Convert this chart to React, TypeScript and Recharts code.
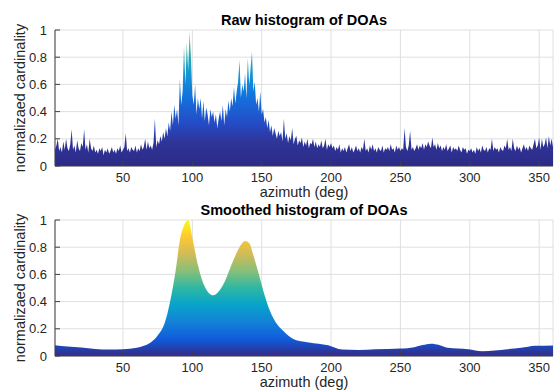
import { AreaChart, Area, XAxis, YAxis, CartesianGrid } from "recharts";

// raw histogram: one value per degree, 1..360
const RAW_START = 1;
const rawValues = [
  0.12, 0.15, 0.2, 0.11, 0.14, 0.1, 0.18, 0.12, 0.2, 0.13,
  0.11, 0.16, 0.27, 0.12, 0.15, 0.1, 0.19, 0.13, 0.11, 0.17,
  0.14, 0.27, 0.12, 0.16, 0.1, 0.2, 0.13, 0.11, 0.15, 0.1,
  0.12, 0.09, 0.13, 0.11, 0.14, 0.08, 0.12, 0.1, 0.13, 0.09,
  0.11, 0.14, 0.1, 0.12, 0.09, 0.13, 0.11, 0.15, 0.1, 0.12,
  0.14, 0.24, 0.11, 0.13, 0.1, 0.14, 0.12, 0.11, 0.15, 0.1,
  0.13, 0.11, 0.16, 0.12, 0.14, 0.2, 0.12, 0.18, 0.13, 0.15,
  0.12, 0.17, 0.35, 0.14, 0.19, 0.16, 0.22, 0.18, 0.25, 0.2,
  0.28, 0.22, 0.32, 0.26, 0.4, 0.3, 0.45, 0.35, 0.42, 0.3,
  0.64, 0.45, 0.55, 0.88, 0.6, 0.91, 0.7, 0.99, 0.8, 0.52,
  0.45, 0.6, 0.38, 0.5, 0.42, 0.5, 0.35, 0.48, 0.33, 0.43,
  0.38, 0.3, 0.42, 0.36, 0.4, 0.32, 0.38, 0.28, 0.35, 0.4,
  0.33, 0.45, 0.3, 0.42, 0.36, 0.48, 0.4, 0.5, 0.44, 0.58,
  0.46, 0.55, 0.62, 0.78, 0.5, 0.6, 0.55, 0.68, 0.5, 0.79,
  0.6, 0.72, 0.84, 0.55, 0.62, 0.45, 0.5, 0.4, 0.55, 0.38,
  0.42, 0.32, 0.36, 0.28, 0.34, 0.25, 0.3, 0.22, 0.28, 0.24,
  0.2, 0.26, 0.22, 0.25, 0.18, 0.35, 0.2, 0.24, 0.17, 0.22,
  0.19, 0.28, 0.16, 0.2, 0.22, 0.15, 0.19, 0.17, 0.21, 0.14,
  0.18, 0.15, 0.2, 0.13, 0.17, 0.16, 0.2, 0.14, 0.18, 0.13,
  0.16, 0.14, 0.19, 0.13, 0.15, 0.2, 0.12, 0.16, 0.14, 0.17,
  0.13, 0.15, 0.11, 0.14, 0.12, 0.16, 0.1, 0.13, 0.11, 0.14,
  0.1, 0.13, 0.16, 0.11, 0.14, 0.1, 0.12, 0.15, 0.11, 0.13,
  0.1, 0.14, 0.12, 0.2, 0.11, 0.13, 0.1, 0.15, 0.12, 0.16,
  0.11, 0.13, 0.1, 0.14, 0.12, 0.11, 0.15, 0.1, 0.13, 0.12,
  0.14, 0.11, 0.16, 0.12, 0.13, 0.1, 0.15, 0.12, 0.14, 0.11,
  0.13, 0.12, 0.28, 0.14, 0.11, 0.15, 0.26, 0.12, 0.14, 0.11,
  0.13, 0.16, 0.12, 0.15, 0.13, 0.17, 0.12, 0.16, 0.14, 0.18,
  0.15, 0.13, 0.21, 0.14, 0.16, 0.12, 0.17, 0.13, 0.15, 0.11,
  0.14, 0.12, 0.16, 0.11, 0.13, 0.15, 0.1, 0.14, 0.12, 0.13,
  0.11, 0.15, 0.12, 0.1, 0.14, 0.12, 0.13, 0.09, 0.12, 0.11,
  0.13, 0.1, 0.12, 0.09, 0.14, 0.11, 0.13, 0.1, 0.15, 0.12,
  0.11, 0.14, 0.1, 0.13, 0.12, 0.2, 0.11, 0.14, 0.12, 0.13,
  0.1, 0.14, 0.12, 0.11, 0.15, 0.13, 0.2, 0.12, 0.14, 0.11,
  0.2, 0.13, 0.11, 0.15, 0.12, 0.14, 0.1, 0.13, 0.16, 0.12,
  0.14, 0.11, 0.15, 0.13, 0.12, 0.16, 0.2, 0.13, 0.15, 0.21,
  0.12, 0.2, 0.14, 0.16, 0.21, 0.13, 0.22, 0.15, 0.2, 0.14,
];

// smoothed histogram, sampled where the curve bends
const smoothDeg = [
  1, 10, 20, 30, 40, 50, 60, 65, 70, 75, 80, 84, 88, 91, 94, 97, 100, 104,
  109, 115, 122, 129, 134, 138, 141, 144, 148, 152, 156, 160, 166, 175, 184,
  198, 208, 220, 232, 250, 260, 266, 272, 278, 284, 299, 309, 318, 327, 337,
  347, 360,
];
const smoothValues = [
  0.079, 0.07, 0.062, 0.052, 0.047, 0.05, 0.06, 0.075, 0.1, 0.15, 0.24, 0.4,
  0.63, 0.85, 0.96, 1.0, 0.87, 0.67, 0.51, 0.447, 0.52, 0.69, 0.8, 0.845,
  0.83, 0.74, 0.6, 0.45, 0.33, 0.25, 0.18, 0.115, 0.1, 0.079, 0.047, 0.045,
  0.05, 0.055, 0.065, 0.08, 0.09, 0.08, 0.06, 0.05, 0.035, 0.04, 0.05, 0.06,
  0.075, 0.078,
];

const xTicks = [50, 100, 150, 200, 250, 300, 350];
const yTicks = [0, 0.2, 0.4, 0.6, 0.8, 1];

const rawData = rawValues.map((v, i) => ({ deg: RAW_START + i, v }));
const smoothData = smoothDeg.map((d, i) => ({ deg: d, v: smoothValues[i] }));

const parula = ["#352a87", "#0f5cdd", "#1481d6", "#06a4ca", "#2eb7a4", "#87bf77", "#d1bb59", "#fec832", "#f9fb0e"];
const rawColors: [number, string][] = [
  [0, "#2c2a86"],
  [0.18, "#2f3599"],
  [0.3, "#2549c4"],
  [0.5, "#1470dc"],
  [0.65, "#1390d8"],
  [0.8, "#20aab8"],
  [0.92, "#60bf88"],
  [1, "#a8cc50"],
];

const W = 555;
const H = 195;
const PLOT_TOP = 30;
const PLOT_BOTTOM = 166;
const FONT = "'Liberation Sans', Arial, Helvetica, sans-serif";
const tickStyle = { fontSize: 13, fill: "#262626", fontFamily: FONT };

function Panel({ data, fillId, stops, curve }: { data: { deg: number; v: number }[]; fillId: string; stops: [number, string][]; curve: "linear" | "monotone" }) {
  return (
    <AreaChart width={W} height={H} data={data} margin={{ top: PLOT_TOP, right: 2, left: 10, bottom: 9 }}>
      <defs>
        <linearGradient id={fillId} gradientUnits="userSpaceOnUse" x1="0" y1={PLOT_BOTTOM} x2="0" y2={PLOT_TOP}>
          {stops.map(([o, c]) => (
            <stop key={o} offset={o} stopColor={c} />
          ))}
        </linearGradient>
      </defs>
      <CartesianGrid stroke="#dfdfdf" strokeWidth={1} />
      <XAxis
        dataKey="deg"
        type="number"
        domain={[1, 360]}
        ticks={xTicks}
        height={20}
        tick={tickStyle}
        tickSize={-5}
        tickMargin={12}
        stroke="#404040"
        allowDataOverflow
      />
      <YAxis
        type="number"
        domain={[0, 1]}
        ticks={yTicks}
        width={45}
        tick={tickStyle}
        tickSize={-5}
        tickMargin={13}
        stroke="#404040"
        tickFormatter={(v: number) => String(v)}
      />
      <Area
        dataKey="v"
        type={curve}
        stroke="none"
        fill={`url(#${fillId})`}
        fillOpacity={1}
        isAnimationActive={false}
      />
    </AreaChart>
  );
}

const titleStyle = {
  position: "absolute" as const,
  left: 55,
  width: 498,
  textAlign: "center" as const,
  fontFamily: FONT,
  fontWeight: "bold" as const,
  fontSize: 14.5,
  color: "#000",
  lineHeight: "16px",
};
const xLabelStyle = {
  position: "absolute" as const,
  left: 55,
  width: 498,
  textAlign: "center" as const,
  fontFamily: FONT,
  fontSize: 14.5,
  color: "#262626",
  lineHeight: "16px",
};
const yLabelStyle = {
  position: "absolute" as const,
  width: 200,
  textAlign: "center" as const,
  fontFamily: FONT,
  fontSize: 14.5,
  color: "#262626",
  lineHeight: "16px",
  transform: "rotate(-90deg)",
};

export default function App() {
  const smoothStops = parula.map((c, i) => [i / (parula.length - 1), c] as [number, string]);
  return (
    <div style={{ position: "relative", width: W, height: 390, background: "#fff", overflow: "hidden" }}>
      <style>{`body{margin:0}`}</style>
      <div style={{ position: "absolute", left: 0, top: 0 }}>
        <Panel data={rawData} fillId="rawFill" stops={rawColors} curve="linear" />
      </div>
      <div style={{ position: "absolute", left: 0, top: 190 }}>
        <Panel data={smoothData} fillId="smoothFill" stops={smoothStops} curve="monotone" />
      </div>
      <div style={{ ...titleStyle, top: 12 }}>Raw histogram of DOAs</div>
      <div style={{ ...titleStyle, top: 202 }}>Smoothed histogram of DOAs</div>
      <div style={{ ...xLabelStyle, top: 184 }}>azimuth (deg)</div>
      <div style={{ ...xLabelStyle, top: 374 }}>azimuth (deg)</div>
      <div style={{ ...yLabelStyle, left: 20 - 100, top: 98 - 8 }}>normalizaed cardinality</div>
      <div style={{ ...yLabelStyle, left: 20 - 100, top: 288 - 8 }}>normalizaed cardinality</div>
    </div>
  );
}
